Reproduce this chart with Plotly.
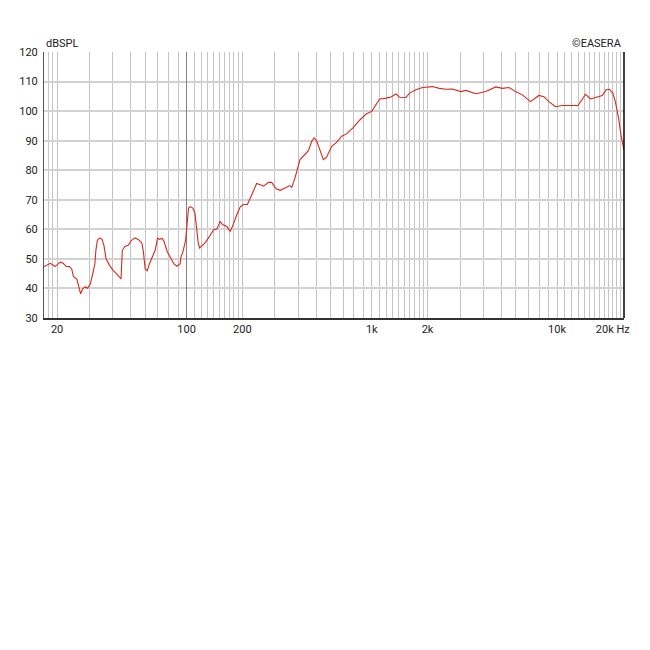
import numpy as np
import plotly.graph_objects as go

# frequency response (Hz, dB SPL)
freq = [17.0, 17.9, 18.4, 19.5, 20.8, 21.6, 22.4, 23.3, 24.0, 24.5, 25.6, 26.2, 26.8, 27.5,
        28.4, 29.2, 30.2, 31.1, 32.0, 32.4, 33.0, 34.1, 35.0, 35.8, 36.8, 38.3, 39.9,
        41.6, 42.9, 44.3, 45.0, 46.4, 48.4, 50.5, 52.6, 54.8, 57.4, 58.5, 59.8, 61.4,
        63.0, 65.0, 67.7, 69.8, 71.2, 74.0, 75.8, 78.6, 81.9, 85.5, 88.9, 92.2, 93.3,
        95.5, 98.9, 100.0, 102.5, 105.0, 108.0, 111.0, 113.0, 115.5, 117.5, 121.0,
        126.0, 133.0, 140.0, 146.0, 152.0, 156.0, 165.0, 172.0, 177.0, 187.0, 195.0,
        203.0, 213.0, 225.0, 239.0, 250.0, 260.0, 277.0, 288.0, 305.0, 320.0, 341.0,
        360.0, 370.0, 385.0, 410.0, 437.0, 455.0, 474.0, 488.0, 505.0, 526.0, 548.0,
        570.0, 608.0, 646.0, 688.0, 731.0, 794.0, 862.0, 932.0, 1000.0, 1055.0, 1100.0,
        1195.0, 1270.0, 1352.0, 1410.0, 1530.0, 1600.0, 1733.0, 1882.0, 2130.0,
        2315.0, 2510.0, 2730.0, 3020.0, 3220.0, 3650.0, 4130.0, 4670.0, 5070.0,
        5510.0, 5980.0, 6500.0, 7200.0, 7980.0, 8500.0, 9040.0, 9820.0, 10700.0,
        12100.0, 13000.0, 14250.0, 15160.0, 16150.0, 17540.0, 18420.0, 19200.0,
        20000.0, 20650.0, 21500.0, 22200.0, 23000.0]
spl = [47.4, 48.1, 48.5, 47.4, 48.9, 48.5, 47.4, 47.4, 46.6, 44.1, 43.1, 40.6, 38.2, 39.9,
       40.6, 40.1, 41.4, 44.8, 48.3, 52.9, 56.3, 57.1, 56.6, 54.6, 50.0, 47.9, 46.3,
       45.2, 44.3, 43.2, 52.9, 54.2, 54.6, 56.3, 57.1, 56.6, 55.4, 52.3, 46.6, 46.0,
       48.3, 50.6, 52.9, 57.1, 56.6, 56.9, 55.7, 52.5, 50.6, 48.3, 47.5, 48.3, 50.6,
       52.3, 56.3, 59.1, 67.2, 67.7, 67.2, 65.5, 61.0, 55.7, 53.7, 54.3, 55.4, 57.6,
       59.9, 60.1, 62.7, 61.6, 61.0, 59.3, 61.0, 65.0, 67.6, 68.4, 68.4, 71.7, 75.5,
       75.1, 74.6, 75.9, 75.9, 73.7, 73.2, 74.0, 74.8, 74.2, 77.4, 83.6, 85.3, 86.6,
       89.8, 90.9, 89.8, 86.4, 83.6, 84.4, 88.1, 89.4, 91.5, 92.3, 94.4, 97.0, 99.0,
       99.9, 102.1, 104.0, 104.4, 104.8, 105.8, 104.7, 104.6, 106.1, 107.2, 108.0,
       108.3, 107.7, 107.4, 107.5, 106.6, 107.0, 105.9, 106.6, 108.2, 107.7, 108.0,
       106.6, 105.5, 103.2, 105.3, 104.9, 103.2, 101.5, 101.9, 101.9, 101.9, 105.7,
       104.1, 104.6, 105.3, 107.2, 107.4, 106.1, 103.2, 97.6, 91.5, 86.8]

tick_vals = [20, 100, 200, 1000, 2000, 10000, 20000]
tick_text = ["20", "100", "200", "1k", "2k", "10k", "20k Hz"]
minor_vals = ([18, 19] + list(range(30, 100, 10)) + list(range(110, 200, 10))
              + list(range(300, 1000, 100)) + list(range(1100, 2000, 100))
              + list(range(3000, 10000, 1000)) + list(range(11000, 20000, 1000))
              + [21000, 22000])
db_ticks = list(range(30, 121, 10))

x_range = [np.log10(17), np.log10(23000)]
font = dict(family="Roboto, Arial, sans-serif", size=11, color="#222222")

fig = go.Figure()
fig.add_trace(go.Scatter(x=freq, y=spl, mode="lines",
                         line=dict(color="#d8281c", width=1.1),
                         hoverinfo="skip", showlegend=False))

# page has an 8px body margin, so margins are shifted to land the plot area
fig.update_layout(
    width=650, height=650,
    margin=dict(l=36, r=34, t=44, b=340),
    paper_bgcolor="white", plot_bgcolor="white",
    font=font,
    xaxis=dict(type="log", range=x_range, tickvals=tick_vals, ticktext=tick_text,
               showgrid=True, gridcolor="#c4c4c4", gridwidth=1,
               minor=dict(tickvals=minor_vals, showgrid=True, gridcolor="#c4c4c4",
                          gridwidth=1, ticks=""),
               showline=True, linecolor="#333333", linewidth=1.5,
               ticks="", ticklen=0, zeroline=False, tickfont=font),
    xaxis2=dict(type="log", range=x_range, overlaying="x", tickvals=[100],
                showticklabels=False, showgrid=True, gridcolor="#808080",
                gridwidth=1, ticks="", zeroline=False),
    yaxis=dict(range=[30, 120], tickvals=db_ticks, showgrid=True,
               gridcolor="#d2d2d2", gridwidth=2, showline=True,
               linecolor="#555555", linewidth=1, mirror=False, ticks="",
               zeroline=False, tickfont=font, ticklabelstandoff=3),
)

# dummy trace so the overlay axis is drawn
fig.add_trace(go.Scatter(x=[100], y=[30], xaxis="x2", mode="markers",
                         marker=dict(opacity=0), hoverinfo="skip", showlegend=False))

# right border
fig.add_shape(type="line", xref="paper", yref="paper", x0=1, x1=1, y0=0, y1=1,
              line=dict(color="#000000", width=1.5))

fig.add_annotation(text="dBSPL", xref="paper", yref="paper", x=0, y=1,
                   xanchor="left", yanchor="bottom", showarrow=False, font=font)
fig.add_annotation(text="©EASERA", xref="paper", yref="paper", x=1, y=1,
                   xanchor="right", yanchor="bottom", showarrow=False, font=font)

fig.write_html("out.html")
